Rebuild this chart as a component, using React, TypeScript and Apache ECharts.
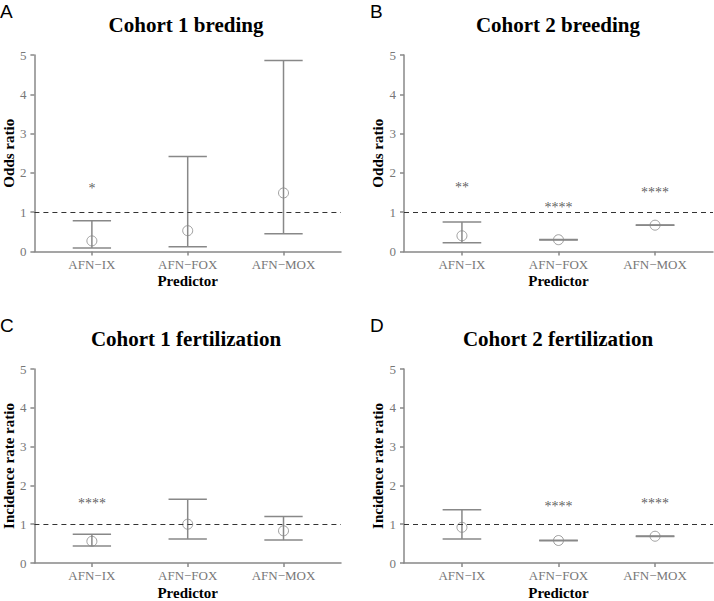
import React, { useEffect, useRef } from "react";
import * as echarts from "echarts";

// ---------- data ----------
const categories = ["AFN\u2212IX", "AFN\u2212FOX", "AFN\u2212MOX"];
const categoryPositions = [1, 2, 3];
const panelLetters = ["A", "B", "C", "D"];
const panelTitles = [
  "Cohort 1 breding",
  "Cohort 2 breeding",
  "Cohort 1 fertilization",
  "Cohort 2 fertilization",
];
const yAxisNames = ["Odds ratio", "Odds ratio", "Incidence rate ratio", "Incidence rate ratio"];
const yTicks = [0, 1, 2, 3, 4, 5];

const estimates = [
  [0.27, 0.53, 1.49],
  [0.4, 0.3, 0.67],
  [0.56, 1.0, 0.83],
  [0.92, 0.58, 0.69],
];
const lowerCI = [
  [0.09, 0.12, 0.45],
  [0.22, 0.295, 0.665],
  [0.44, 0.62, 0.59],
  [0.62, 0.575, 0.685],
];
const upperCI = [
  [0.78, 2.42, 4.86],
  [0.75, 0.305, 0.675],
  [0.74, 1.64, 1.2],
  [1.37, 0.585, 0.695],
];
const starLabels = [
  ["*", "", ""],
  ["**", "****", "****"],
  ["****", "", ""],
  ["", "****", "****"],
];
const starHeights = [
  [1.69, null, null],
  [1.7, 1.2, 1.58],
  [1.61, null, null],
  [null, 1.53, 1.61],
];
const referenceValue = 1;

// ---------- layout ----------
const GRIDS = [
  { left: 32, top: 55 },
  { left: 404, top: 55 },
  { left: 32, top: 369 },
  { left: 404, top: 369 },
];
const GRID_W = 309;
const GRID_H = 196.5;
const CAP_HALF = 0.2;
const SERIF = "'Liberation Serif', 'Times New Roman', serif";
const SANS = "'Liberation Sans', Arial, sans-serif";
const GRAY = "#888";
const LABEL_GRAY = "#777";

export default function App() {
  const ref = useRef<HTMLDivElement>(null);

  useEffect(() => {
    if (!ref.current) return;
    const chart = echarts.init(ref.current, null, { renderer: "svg" });

    const grid: any[] = [];
    const xAxis: any[] = [];
    const yAxis: any[] = [];
    const series: any[] = [];
    const graphic: any[] = [];

    GRIDS.forEach((g, i) => {
      grid.push({ left: g.left, top: g.top, width: GRID_W, height: GRID_H, containLabel: false });
      xAxis.push({
        type: "value",
        gridIndex: i,
        min: 0.4,
        max: 3.6,
        splitLine: { show: false },
        axisLine: { show: true, onZero: false, lineStyle: { color: GRAY, width: 1.5 } },
        axisTick: { show: true, customValues: categoryPositions, length: 4, lineStyle: { color: GRAY, width: 1.5 } },
        axisLabel: {
          customValues: categoryPositions,
          formatter: (v: number) => categories[Math.round(v) - 1] ?? "",
          color: LABEL_GRAY,
          fontFamily: SERIF,
          fontSize: 13,
          margin: 6,
        },
        name: "Predictor",
        nameLocation: "middle",
        nameGap: 22,
        nameTextStyle: { fontFamily: SERIF, fontWeight: "bold", fontSize: 15, color: "#000" },
      });
      yAxis.push({
        type: "value",
        gridIndex: i,
        min: yTicks[0],
        max: yTicks[yTicks.length - 1],
        interval: 1,
        splitLine: { show: false },
        axisLine: { show: true, lineStyle: { color: GRAY, width: 1.5 } },
        axisTick: { show: true, length: 4, lineStyle: { color: GRAY, width: 1.5 } },
        axisLabel: { color: LABEL_GRAY, fontFamily: SERIF, fontSize: 13, margin: 8 },
        name: yAxisNames[i],
        nameLocation: "middle",
        nameGap: 18,
        nameTextStyle: { fontFamily: SERIF, fontWeight: "bold", fontSize: 15, color: "#000" },
      });

      series.push({
        type: "custom",
        xAxisIndex: i,
        yAxisIndex: i,
        silent: true,
        encode: { x: 0, y: [1, 2] },
        data: categoryPositions.map((x, k) => [x, lowerCI[i][k], upperCI[i][k]]),
        renderItem: (params: any, api: any) => {
          const x = api.value(0);
          const lo = api.value(1);
          const hi = api.value(2);
          const pLo = api.coord([x, lo]);
          const pHi = api.coord([x, hi]);
          const loL = api.coord([x - CAP_HALF, lo]);
          const loR = api.coord([x + CAP_HALF, lo]);
          const hiL = api.coord([x - CAP_HALF, hi]);
          const hiR = api.coord([x + CAP_HALF, hi]);
          const style = { stroke: GRAY, lineWidth: 1.5 };
          return {
            type: "group",
            children: [
              { type: "line", shape: { x1: pLo[0], y1: pLo[1], x2: pHi[0], y2: pHi[1] }, style },
              { type: "line", shape: { x1: loL[0], y1: loL[1], x2: loR[0], y2: loR[1] }, style },
              { type: "line", shape: { x1: hiL[0], y1: hiL[1], x2: hiR[0], y2: hiR[1] }, style },
            ],
          };
        },
      });

      series.push({
        type: "scatter",
        xAxisIndex: i,
        yAxisIndex: i,
        silent: true,
        symbol: "circle",
        symbolSize: 10,
        itemStyle: { color: "rgba(0,0,0,0)", borderColor: GRAY, borderWidth: 1 },
        data: categoryPositions.map((x, k) => [x, estimates[i][k]]),
        markLine: {
          silent: true,
          symbol: ["none", "none"],
          label: { show: false },
          lineStyle: { type: [5, 4], color: "#333", width: 1 },
          data: [{ yAxis: referenceValue }],
        },
      });

      const starData: any[] = [];
      categoryPositions.forEach((x, k) => {
        const h = starHeights[i][k];
        if (h != null && starLabels[i][k]) {
          starData.push({ value: [x, h], name: starLabels[i][k] });
        }
      });
      series.push({
        type: "scatter",
        xAxisIndex: i,
        yAxisIndex: i,
        silent: true,
        symbolSize: 1,
        itemStyle: { color: "rgba(0,0,0,0)" },
        label: {
          show: true,
          position: "inside",
          offset: [0, 3],
          formatter: (p: any) => p.name,
          fontFamily: SERIF,
          fontSize: 14,
          color: "#333",
        },
        data: starData,
      });

      graphic.push({
        type: "text",
        x: g.left + GRID_W / 2 - 0.5,
        y: g.top - 30,
        style: {
          text: panelTitles[i],
          fontFamily: SERIF,
          fontWeight: "bold",
          fontSize: 21,
          fill: "#000",
          textAlign: "center",
          textVerticalAlign: "middle",
        },
      });
      graphic.push({
        type: "text",
        x: i % 2 === 0 ? 0 : 370,
        y: g.top - 43.5,
        style: {
          text: panelLetters[i],
          fontFamily: SANS,
          fontSize: 19,
          fill: "#000",
          textAlign: "left",
          textVerticalAlign: "middle",
        },
      });
    });

    chart.setOption({
      animation: false,
      backgroundColor: "#fff",
      grid,
      xAxis,
      yAxis,
      series,
      graphic,
    });

    return () => chart.dispose();
  }, []);

  return (
    <div
      ref={ref}
      style={{ position: "fixed", left: 0, top: 0, width: 714, height: 601 }}
    />
  );
}
